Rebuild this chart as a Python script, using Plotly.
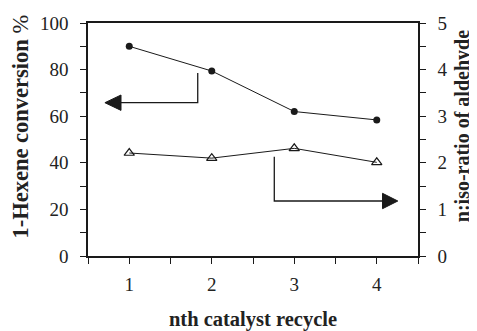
import plotly.graph_objects as go

cycles = [1, 2, 3, 4]
conversion = [90.0, 79.4, 62.0, 58.4]
ratio = [2.21, 2.10, 2.31, 2.01]

x_ticks = [1, 2, 3, 4]
y_left_ticks = [0, 20, 40, 60, 80, 100]
y_right_ticks = [0, 1, 2, 3, 4, 5]

x_title = "nth catalyst recycle"
y_left_title = "<b>1-Hexene conversion</b> %"
y_right_title = "<b>n:iso-ratio of aldehyde</b>"

# arrow guide paths (x in cycle units, y in conversion units)
arrow_left_x = [1.83, 1.83, 0.90]
arrow_left_y = [78.5, 65.8, 65.8]
arrow_right_x = [2.758, 2.758, 4.07]
arrow_right_y = [42.6, 23.6, 23.6]

FONT = "Liberation Serif"
INK = "#1a1a1a"

fig = go.Figure()
fig.add_trace(go.Scatter(
    x=cycles, y=conversion, mode="lines+markers",
    line=dict(color=INK, width=1),
    marker=dict(symbol="circle", size=7, color=INK),
    showlegend=False, yaxis="y"))
fig.add_trace(go.Scatter(
    x=cycles, y=ratio, mode="lines+markers",
    line=dict(color=INK, width=1),
    marker=dict(symbol="triangle-up-open", size=9, color=INK, line=dict(width=1.2)),
    showlegend=False, yaxis="y2"))

shapes = []
for xs, ys in [(arrow_left_x, arrow_left_y), (arrow_right_x, arrow_right_y)]:
    path = "M %g,%g L %g,%g L %g,%g" % (xs[0], ys[0], xs[1], ys[1], xs[2], ys[2])
    shapes.append(dict(type="path", path=path, xref="x", yref="y",
                       line=dict(color=INK, width=1.3)))

# arrowheads
hw = 0.195   # length in x units
hh = 3.3     # half height in y units
tipL = arrow_left_x[2] - hw
yL = arrow_left_y[2]
shapes.append(dict(type="path", xref="x", yref="y",
                   path="M %g,%g L %g,%g L %g,%g Z" % (tipL, yL, arrow_left_x[2], yL + hh, arrow_left_x[2], yL - hh),
                   fillcolor=INK, line=dict(color=INK, width=1)))
tipR = arrow_right_x[2] + 0.185
yR = arrow_right_y[2]
shapes.append(dict(type="path", xref="x", yref="y",
                   path="M %g,%g L %g,%g L %g,%g Z" % (tipR, yR, arrow_right_x[2], yR + hh, arrow_right_x[2], yR - hh),
                   fillcolor=INK, line=dict(color=INK, width=1)))

tickfont = dict(family=FONT, size=19, color="#222")

annotations = [
    dict(text=y_left_title, xref="paper", yref="paper", x=-0.206, y=0.556,
         xanchor="center", yanchor="middle", textangle=-90, showarrow=False,
         font=dict(family=FONT, size=22.5, color="#222")),
    dict(text=y_right_title, xref="paper", yref="paper", x=1.137, y=0.558,
         xanchor="center", yanchor="middle", textangle=-90, showarrow=False,
         font=dict(family=FONT, size=20, color="#222")),
]

# page body has an 8px default margin, so the figure is offset by 8px
fig.update_layout(
    width=477, height=331,
    margin=dict(l=80, r=67, t=15, b=83, autoexpand=False),
    paper_bgcolor="white", plot_bgcolor="white",
    shapes=shapes, annotations=annotations,
    xaxis=dict(range=[0.5, 4.5], tickvals=x_ticks, ticktext=[str(v) for v in x_ticks],
               automargin=False,
               ticks="outside", ticklen=6, tickwidth=1.2, tickcolor=INK,
               minor=dict(tickvals=[0.5, 1.5, 2.5, 3.5, 4.5], ticks="outside", ticklen=6, tickwidth=1.2, tickcolor=INK),
               showline=True, linecolor=INK, linewidth=1.5, mirror=True,
               showgrid=False, zeroline=False, tickfont=tickfont, ticklabelstandoff=4,
               title=dict(text=x_title, font=dict(family=FONT, size=20.5, color="#222", weight="bold"), standoff=18)),
    yaxis=dict(range=[0, 100], tickvals=y_left_ticks, automargin=False,
               ticks="outside", ticklen=6, tickwidth=1.2, tickcolor=INK,
               minor=dict(dtick=10, ticks="outside", ticklen=6, tickwidth=1.2, tickcolor=INK),
               showline=True, linecolor=INK, linewidth=1.5,
               showgrid=False, zeroline=False, tickfont=tickfont, ticklabelstandoff=8),
    yaxis2=dict(range=[0, 5], tickvals=y_right_ticks, overlaying="y", side="right",
                automargin=False,
                ticks="outside", ticklen=6, tickwidth=1.2, tickcolor=INK,
                minor=dict(dtick=0.5, ticks="outside", ticklen=6, tickwidth=1.2, tickcolor=INK),
                showline=True, linecolor=INK, linewidth=1.5,
                showgrid=False, zeroline=False, tickfont=tickfont, ticklabelstandoff=8),
)

fig.write_html("out.html")
